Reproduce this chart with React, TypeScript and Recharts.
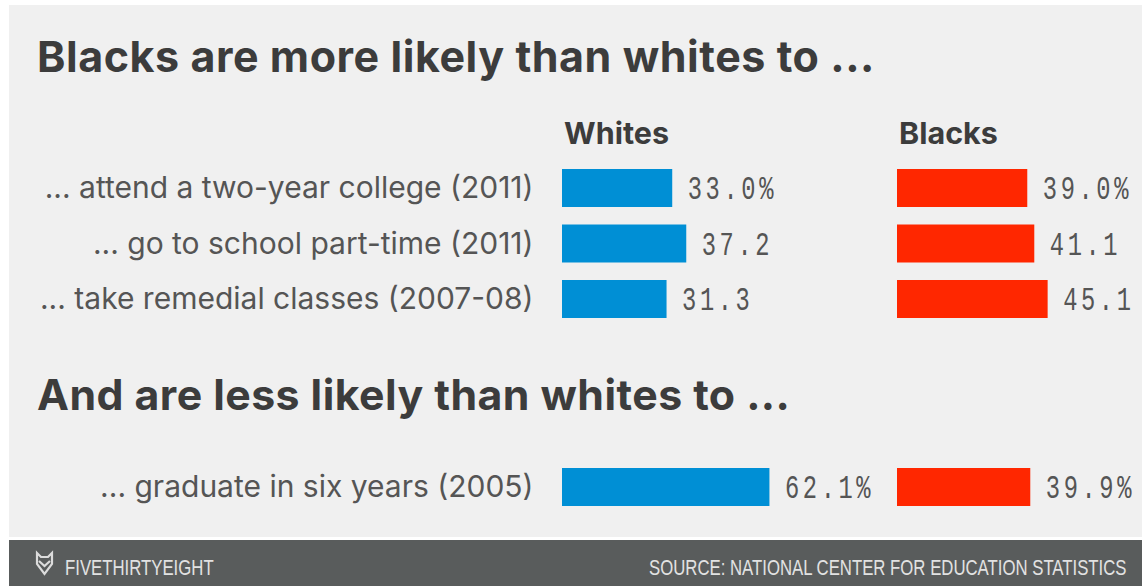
import { BarChart, Bar, XAxis, YAxis, LabelList } from "recharts";

const moreLabels = [
  "... attend a two-year college (2011)",
  "... go to school part-time (2011)",
  "... take remedial classes (2007-08)",
];
const moreWhites = [33.0, 37.2, 31.3];
const moreBlacks = [39.0, 41.1, 45.1];

const lessLabels = ["... graduate in six years (2005)"];
const lessWhites = [62.1];
const lessBlacks = [39.9];

const BLUE = "#008fd5";
const RED = "#ff2700";
const TEXT = "#3c3c3c";
const SANS = "Inter, Roboto, sans-serif";
const MONO = "'Liberation Mono', monospace";
const FOOT = "'Liberation Sans', sans-serif";

const ROW_H = 55.5;
const PLOT_W = 240.5;
const MAX_VALUE = 72;
const FOOT_SQUEEZE = 0.762;

const buildRows = (labels: string[], values: number[]) =>
  labels.map((label, i) => ({
    label,
    value: values[i],
    // only the first row of a group carries the percent sign
    text: `${values[i].toFixed(1)}${i === 0 ? "%" : ""}`,
  }));

// tall, narrow figures on a fixed pitch
const ValueLabel = ({ x, y, width, height, value }: any) => (
  <text
    transform={`translate(${x + width + 15.5} ${y + height / 2 + 11}) scale(0.72 1)`}
    fontFamily={MONO}
    fontSize={33}
    letterSpacing={5}
    fill="#555"
  >
    {value}
  </text>
);

type GroupProps = {
  top: number;
  labels: string[];
  whites: number[];
  blacks: number[];
};

const Series = ({ rows, color, left, width, axisWidth }: any) => (
  <div style={{ position: "absolute", left, top: 0 }}>
    <BarChart
      width={width}
      height={rows.length * ROW_H}
      data={rows}
      layout="vertical"
      barCategoryGap={0}
      margin={{ top: 0, bottom: 0, left: 0, right: width - axisWidth - PLOT_W }}
    >
      <XAxis type="number" hide domain={[0, MAX_VALUE]} />
      <YAxis
        type="category"
        dataKey="label"
        width={axisWidth}
        hide={axisWidth === 0}
        interval={0}
        axisLine={false}
        tickLine={false}
        tickSize={0}
        tickMargin={28.5}
        tick={{ fontFamily: SANS, fontSize: 30, fill: "#555" }}
      />
      <Bar dataKey="value" fill={color} barSize={38} isAnimationActive={false}>
        <LabelList dataKey="text" content={ValueLabel} />
      </Bar>
    </BarChart>
  </div>
);

const Group = ({ top, labels, whites, blacks }: GroupProps) => (
  <div style={{ position: "absolute", left: 0, top }}>
    <Series rows={buildRows(labels, whites)} color={BLUE} left={0} width={890} axisWidth={562} />
    <Series rows={buildRows(labels, blacks)} color={RED} left={897} width={245} axisWidth={0} />
  </div>
);

export default function App() {
  return (
    <div style={{ position: "absolute", left: 0, top: 0, width: 1142, height: 586, background: "#fff", overflow: "hidden" }}>
      <div style={{ position: "absolute", left: 9, top: 5, width: 1133, height: 532, background: "#f0f0f0" }} />
      <svg width={1142} height={586} style={{ position: "absolute", left: 0, top: 0 }}>
        <g fontFamily={SANS} fontWeight={700} fill={TEXT}>
          <text x={37} y={72} fontSize={43} letterSpacing={0.55}>Blacks are more likely than whites to ...</text>
          <text x={37} y={410} fontSize={42.8} letterSpacing={0.45}>And are less likely than whites to ...</text>
          <text x={564} y={144} fontSize={30.5}>Whites</text>
          <text x={899} y={144} fontSize={30.5}>Blacks</text>
        </g>
        <rect x={9} y={540} width={1133} height={46} fill="#595c5c" />
        {/* fox head mark */}
        <g fill="none" stroke="#dcdcdc" strokeWidth={2.2}>
          <path d="M37 553 L41 557 H48 L52 553 V564 L44.5 574 L37 564 Z" />
          <path d="M39 561 L44.5 566 L50 561" />
        </g>
        <g fontFamily={FOOT} fontSize={22} fill="#e2e2e2">
          <text transform={`translate(65 575) scale(${FOOT_SQUEEZE} 1)`}>FIVETHIRTYEIGHT</text>
          <text transform={`translate(649 575) scale(${FOOT_SQUEEZE} 1)`}>SOURCE: NATIONAL CENTER FOR EDUCATION STATISTICS</text>
        </g>
      </svg>
      <Group top={160.25} labels={moreLabels} whites={moreWhites} blacks={moreBlacks} />
      <Group top={459.25} labels={lessLabels} whites={lessWhites} blacks={lessBlacks} />
    </div>
  );
}
